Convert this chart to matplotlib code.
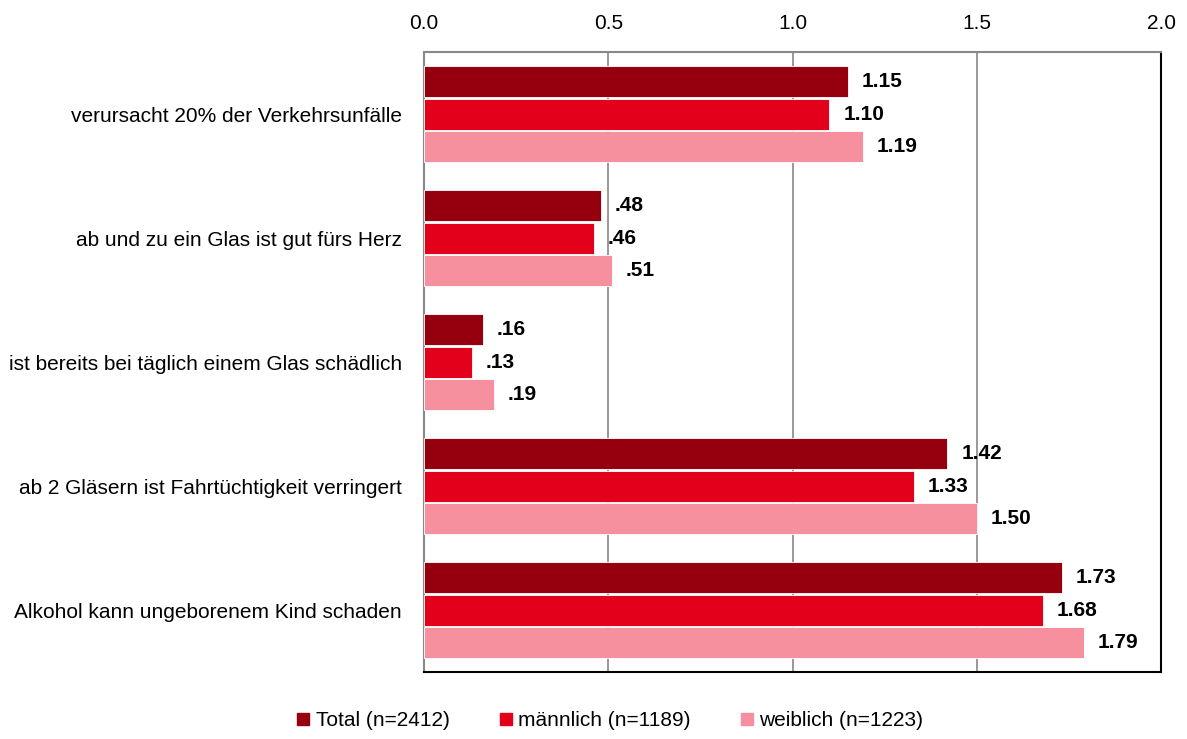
import numpy as np
import matplotlib.pyplot as plt
from matplotlib.lines import Line2D

# Daten
categories = ["verursacht 20% der Verkehrsunfälle",
              "ab und zu ein Glas ist gut fürs Herz",
              "ist bereits bei täglich einem Glas schädlich",
              "ab 2 Gläsern ist Fahrtüchtigkeit verringert",
              "Alkohol kann ungeborenem Kind schaden"]
total = [1.15, 0.48, 0.16, 1.42, 1.73]
maennlich = [1.10, 0.46, 0.13, 1.33, 1.68]
weiblich = [1.19, 0.51, 0.19, 1.50, 1.79]
series_names = ["Total (n=2412)", "männlich (n=1189)", "weiblich (n=1223)"]
colors = ["#96000E", "#E2001A", "#F7909E"]

plt.rcParams['font.family'] = ['Liberation Sans', 'DejaVu Sans']

fig = plt.figure(figsize=(11.87, 7.39), dpi=100)
ax = fig.add_axes([424/1187, 1-672/739, (1161-424)/1187, (672-52)/739])

y = np.arange(len(categories))
h = 0.25
offs = [-0.265, 0.0, 0.265]
for vals, col, off in zip([total, maennlich, weiblich], colors, offs):
    bars = ax.barh(y + off, vals, height=h, color=col, edgecolor="white", linewidth=0.6, zorder=3)
    for b, v in zip(bars, vals):
        txt = f"{v:.2f}"
        if txt.startswith("0"):
            txt = txt[1:]
        ax.annotate(txt, (v, b.get_y() + b.get_height()/2), xytext=(10, 0),
                    textcoords="offset points", va="center", ha="left",
                    fontsize=15, fontweight="bold", zorder=4)

ax.set_xlim(0, 2.0)
ax.set_ylim(len(categories) - 0.5, -0.5)
ax.set_xticks([0, 0.5, 1.0, 1.5, 2.0])
ax.set_xticklabels(["0.0", "0.5", "1.0", "1.5", "2.0"])
ax.xaxis.tick_top()
ax.tick_params(axis="x", length=0, pad=14, labelsize=15)
ax.set_yticks(y)
ax.set_yticklabels(categories)
ax.tick_params(axis="y", length=0, pad=16, labelsize=15)
ax.grid(axis="x", color="#888888", linewidth=1.2, zorder=1)

for s in ["top", "left"]:
    ax.spines[s].set_color("#888888")
    ax.spines[s].set_linewidth(1.5)
for s in ["bottom", "right"]:
    ax.spines[s].set_color("black")
    ax.spines[s].set_linewidth(1.5)

handles = [Line2D([], [], marker="s", linestyle="", color=c, markersize=9) for c in colors]
fig.legend(handles, series_names, loc="center", bbox_to_anchor=(608/1187, 1-721/739),
           ncol=3, frameon=False, fontsize=15, handletextpad=0.1, columnspacing=2.2,
           handlelength=1.0)

fig.savefig("out.png", dpi=100)
